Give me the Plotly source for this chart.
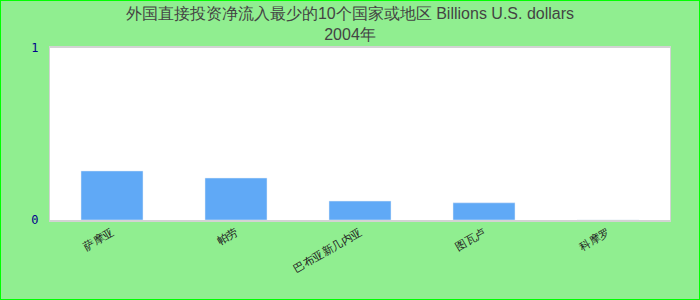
import plotly.graph_objects as go

categories = ["萨摩亚", "帕劳", "巴布亚新几内亚", "图瓦卢", "科摩罗"]
values = [0.285, 0.244, 0.11, 0.10, 0.0]
title_line1 = "外国直接投资净流入最少的10个国家或地区 Billions U.S. dollars"
title_line2 = "2004年"
y_ticks = [0, 1]

W, H = 700, 300
ml, mr, mt, mb = 50, 30, 48, 80
pw, ph = W - ml - mr, H - mt - mb

fig = go.Figure(go.Bar(x=categories, y=values, marker_color="#60A9F6", width=0.5))

fig.update_layout(
    width=W, height=H,
    margin=dict(l=ml, r=mr, t=mt, b=mb, pad=0),
    paper_bgcolor="#90EE90",
    plot_bgcolor="white",
    title=dict(text=title_line1 + "<br>" + title_line2, x=0.5, xanchor="center",
               yref="container", y=1 - 19 / H, yanchor="middle",
               font=dict(family="Liberation Sans, Arial", size=16, color="#444444")),
    showlegend=False,
    bargap=0.5,
)
fig.update_xaxes(showgrid=False, showline=True, linecolor="#d3d3d3", linewidth=2, mirror=True,
                 tickangle=-30, ticks="",
                 tickfont=dict(family="Liberation Sans, Arial", size=11, color="#222222"))
fig.update_yaxes(range=[0, 1], tickvals=y_ticks, showgrid=False, zeroline=False,
                 showline=True, linecolor="#d3d3d3", linewidth=1, mirror=True, ticks="",
                 ticklabelstandoff=8,
                 tickfont=dict(family="DejaVu Sans Mono", size=12, color="#00008B"))
fig.add_shape(type="rect", xref="paper", yref="paper",
              x0=-ml / pw, x1=1 + mr / pw, y0=-mb / ph, y1=1 + mt / ph,
              line=dict(color="#00FF00", width=2), fillcolor="rgba(0,0,0,0)", layer="above")

fig.write_html("out.html")
